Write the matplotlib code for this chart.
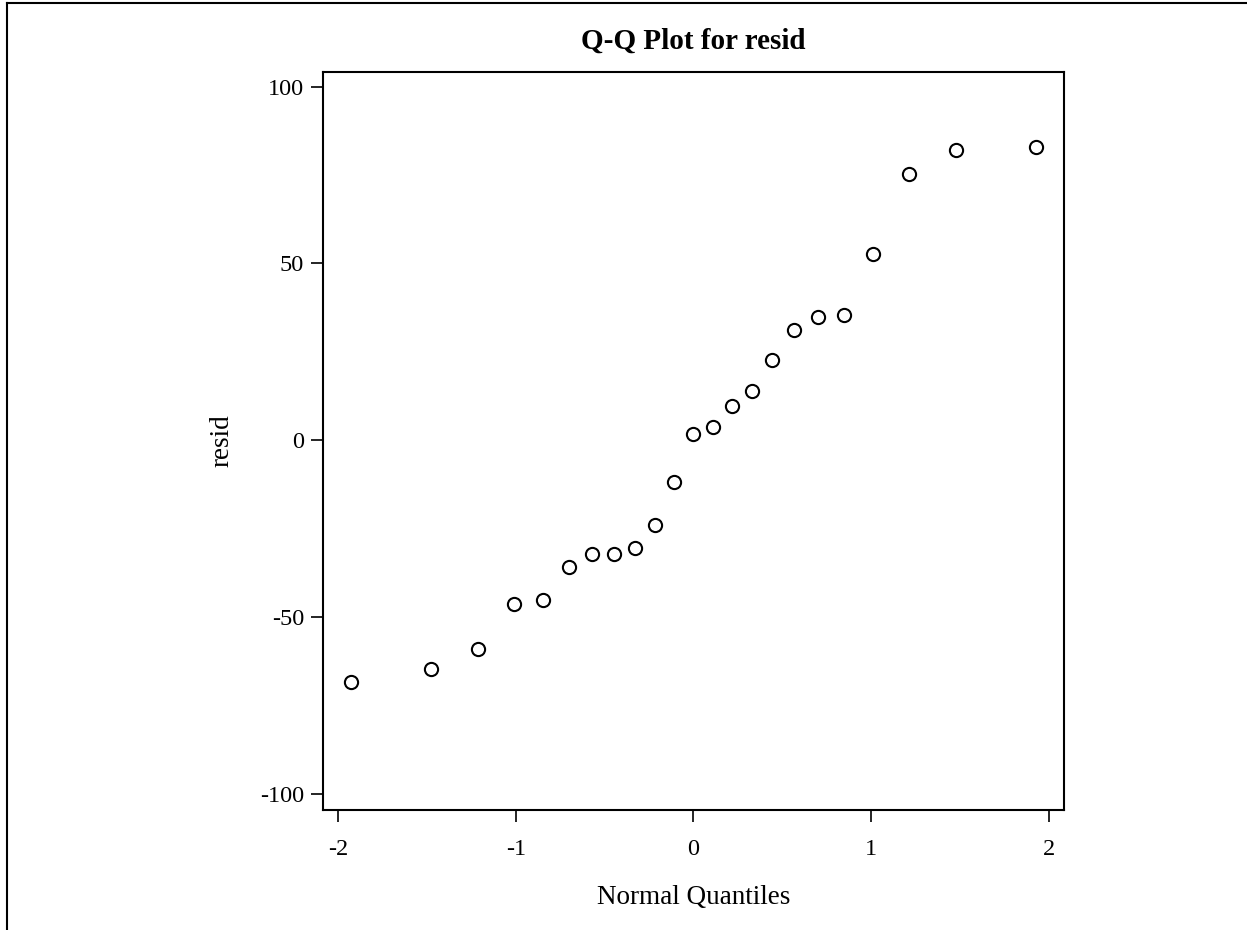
import matplotlib
matplotlib.use("Agg")
import matplotlib.pyplot as plt
from matplotlib.lines import Line2D

plt.rcParams['font.family'] = ['Liberation Serif', 'DejaVu Serif']

# Datos (cuantiles normales y residuos)
cuantiles = [-1.929, -1.476, -1.211, -1.011, -0.845, -0.700, -0.568, -0.445,
             -0.329, -0.218, -0.108, 0.0, 0.108, 0.218, 0.329, 0.445,
             0.568, 0.700, 0.845, 1.011, 1.211, 1.476, 1.929]
resid = [-68.4, -64.5, -59.1, -46.3, -45.2, -35.7, -32.0, -32.0,
         -30.4, -24.0, -11.7, 1.7, 3.7, 9.7, 14.0, 22.7,
         31.1, 34.8, 35.3, 52.7, 75.3, 82.1, 82.9]
xticks = [-2, -1, 0, 1, 2]
yticks = [-100, -50, 0, 50, 100]

fig = plt.figure(figsize=(12.47, 9.30), dpi=100)
ax = fig.add_axes([0.2588, 0.1290, 0.5945, 0.7939])

ax.plot(cuantiles, resid, linestyle='none', marker='o', markersize=9.5,
        markerfacecolor='white', markeredgecolor='black', markeredgewidth=1.5)

ax.set_xlim(-2.086, 2.086)
ax.set_ylim(-104.5, 104.2)
ax.set_xticks(xticks)
ax.set_yticks(yticks)
ax.set_xticklabels([str(v) for v in xticks])
ax.set_yticklabels([str(v) for v in yticks])
ax.tick_params(direction='out', length=8.5, width=1.2, labelsize=17.5)
ax.tick_params(axis='x', pad=12)
ax.tick_params(axis='y', pad=5)

for s in ax.spines.values():
    s.set_linewidth(1.5)

ax.set_title('Q-Q Plot for resid', fontsize=21, fontweight='bold', pad=16.5)
ax.set_xlabel('Normal Quantiles', fontsize=19.5, labelpad=18)
ax.set_ylabel('resid', fontsize=19.5, labelpad=18)

# Marco exterior (solo arriba e izquierda)
fig.add_artist(Line2D([0.0056, 1.0], [0.9968, 0.9968], transform=fig.transFigure,
                      color='black', linewidth=1.5))
fig.add_artist(Line2D([0.0056, 0.0056], [0.0, 0.9968], transform=fig.transFigure,
                      color='black', linewidth=1.5))

fig.savefig('out.png', dpi=100)
plt.close(fig)
